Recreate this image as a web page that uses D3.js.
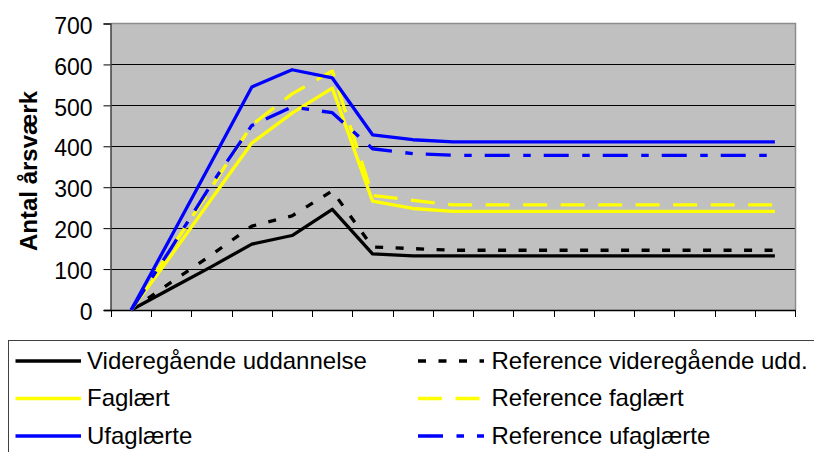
<!DOCTYPE html>
<html>
<head>
<meta charset="utf-8">
<script src="https://cdn.jsdelivr.net/npm/d3@7"></script>
<style>
  html, body { margin: 0; padding: 0; background: #fff; }
  svg { display: block; font-family: "Liberation Sans", Arial, sans-serif; }
</style>
</head>
<body>
<svg id="chart" width="814" height="452"></svg>
<script>
// Periods along the x axis (17 steps)
const categories = ["1","2","3","4","5","6","7","8","9","10","11","12","13","14","15","16","17"];

// Antal årsværk per period
const videregaaende    = [0, 53, 106, 161, 182, 246, 137, 132, 132, 132, 132, 132, 132, 132, 132, 132, 132];
const faglaert         = [0, 134, 272, 408, 481, 542, 266, 248, 241, 241, 241, 241, 241, 241, 241, 241, 241];
const ufaglaerte       = [0, 180, 362, 545, 587, 567, 428, 416, 411, 411, 411, 411, 411, 411, 411, 411, 411];
const refVideregaaende = [0, 68, 135, 205, 230, 291, 154, 150, 146, 146, 146, 146, 146, 146, 146, 146, 146];
const refFaglaert      = [0, 150, 300, 452, 528, 584, 280, 268, 257, 257, 257, 257, 257, 257, 257, 257, 257];
const refUfaglaerte    = [0, 152, 308, 451, 496, 482, 394, 382, 378, 378, 378, 378, 378, 378, 378, 378, 378];

const yTicks = [0, 100, 200, 300, 400, 500, 600, 700];
const yTitle = "Antal årsværk";

const seriesList = [
  { name: "Videregående uddannelse",      values: videregaaende,    color: "#000000", dash: null,                 col: 0, row: 0 },
  { name: "Reference videregående udd.",  values: refVideregaaende, color: "#000000", dash: "8,12.5",             col: 1, row: 0 },
  { name: "Faglært",                      values: faglaert,         color: "#ffff00", dash: null,                 col: 0, row: 1 },
  { name: "Reference faglært",            values: refFaglaert,      color: "#ffff00", dash: "24,13.5",            col: 1, row: 1 },
  { name: "Ufaglærte",                    values: ufaglaerte,       color: "#0000ff", dash: null,                 col: 0, row: 2 },
  { name: "Reference ufaglærte",          values: refUfaglaerte,    color: "#0000ff", dash: "25,13.5,7.5,13",     col: 1, row: 2 }
];

const svg = d3.select("#chart");
const plot = { left: 111, right: 795, top: 23.5, bottom: 310 };

const x = d3.scaleBand().domain(categories).range([plot.left, plot.right]).padding(0);
const y = d3.scaleLinear().domain([0, 700]).range([plot.bottom, plot.top]);
const cx = c => x(c) + x.bandwidth() / 2;

// Plot area background
svg.append("rect")
  .attr("x", plot.left).attr("y", plot.top)
  .attr("width", plot.right - plot.left).attr("height", plot.bottom - plot.top)
  .attr("fill", "#c0c0c0");

// Horizontal gridlines
svg.append("g").selectAll("line")
  .data(yTicks.filter(t => t > 0 && t < 700))
  .join("line")
  .attr("x1", plot.left).attr("x2", plot.right)
  .attr("y1", d => Math.round(y(d)) + 0.5).attr("y2", d => Math.round(y(d)) + 0.5)
  .attr("stroke", "#000").attr("stroke-width", 1);

// Frame: top and right edges
svg.append("path")
  .attr("d", `M${plot.left},${plot.top}H${plot.right + 0.5}V${plot.bottom}`)
  .attr("fill", "none").attr("stroke", "#8c8c8c").attr("stroke-width", 1.5);

// Y axis
const yAxis = svg.append("g").attr("transform", `translate(${plot.left - 0.5},0)`)
  .call(d3.axisLeft(y).tickValues(yTicks).tickSize(7).tickFormat(d3.format("d")));
yAxis.select(".domain").attr("stroke", "#404040").attr("stroke-width", 1.5);
yAxis.selectAll(".tick line").attr("stroke", "#000");
yAxis.selectAll(".tick text")
  .attr("x", -18).attr("dy", "0.42em")
  .attr("font-size", 23).attr("fill", "#000")
  .attr("font-family", "'Liberation Sans', Arial, sans-serif");

// X axis (band edges as ticks, labels hidden under the legend)
const xAxis = svg.append("g").attr("transform", `translate(0,${plot.bottom})`);
xAxis.append("line")
  .attr("x1", plot.left - 7).attr("x2", plot.right + 0.5)
  .attr("y1", 0.5).attr("y2", 0.5).attr("stroke", "#000").attr("stroke-width", 1.5);
xAxis.selectAll("line.tk")
  .data(categories.map(c => x(c)).concat([plot.right]))
  .join("line").attr("class", "tk")
  .attr("x1", d => Math.round(d) + 0.5).attr("x2", d => Math.round(d) + 0.5)
  .attr("y1", 0).attr("y2", 7).attr("stroke", "#000");

// Y axis title
svg.append("text")
  .attr("transform", "translate(37,171) rotate(-90)")
  .attr("text-anchor", "middle")
  .attr("font-size", 24).attr("font-weight", "bold")
  .text(yTitle);

// Series lines
const line = d3.line()
  .x((d, i) => cx(categories[i]))
  .y(d => y(d));

svg.append("g").selectAll("path")
  .data(seriesList)
  .join("path")
  .attr("d", d => line(d.values))
  .attr("fill", "none")
  .attr("stroke", d => d.color)
  .attr("stroke-width", 3.3)
  .attr("stroke-linejoin", "round")
  .attr("stroke-dasharray", d => d.dash);

// Legend
const legend = svg.append("g");
legend.append("rect")
  .attr("x", 8.5).attr("y", 340.5).attr("width", 900).attr("height", 200)
  .attr("fill", "#fff").attr("stroke", "#404040").attr("stroke-width", 1);

const colX = [{ x1: 15.5, x2: 81, tx: 87 }, { x1: 418, x2: 484, tx: 491.5 }];
const rowY = [361, 398.5, 436];

const items = legend.selectAll("g.item").data(seriesList).join("g").attr("class", "item");
items.append("line")
  .attr("x1", d => colX[d.col].x1).attr("x2", d => colX[d.col].x2)
  .attr("y1", d => rowY[d.row]).attr("y2", d => rowY[d.row])
  .attr("stroke", d => d.color).attr("stroke-width", 3.3)
  .attr("stroke-dasharray", d => d.dash);
items.append("text")
  .attr("x", d => colX[d.col].tx).attr("y", d => rowY[d.row] + 7.5)
  .attr("font-size", 24).attr("fill", "#000")
  .text(d => d.name);
</script>
</body>
</html>
